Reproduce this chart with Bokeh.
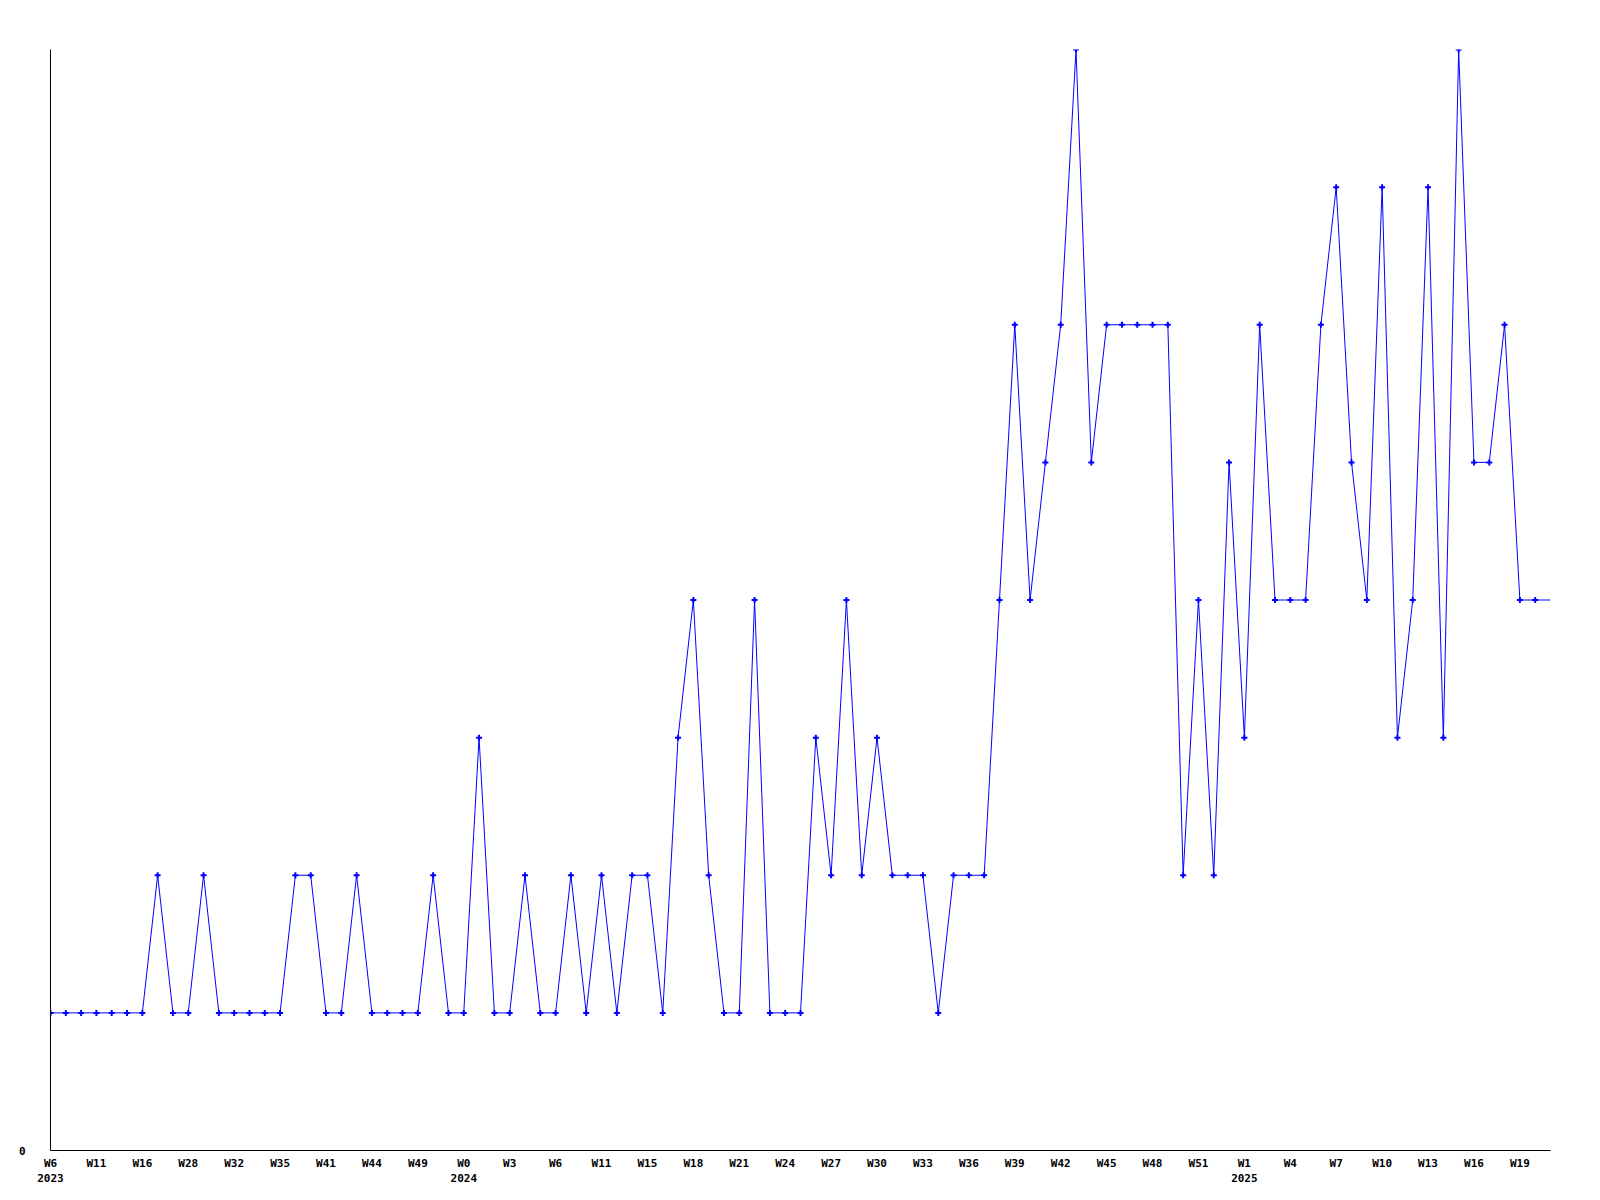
from bokeh.plotting import figure
from bokeh.models import Range1d, FixedTicker
from bokeh.embed import file_html
from bokeh.resources import INLINE

# Weekly counts (one value per week shown on the chart)
values = [1, 1, 1, 1, 1, 1, 1, 2, 1, 1,
          2, 1, 1, 1, 1, 1, 2, 2, 1, 1,
          2, 1, 1, 1, 1, 2, 1, 1, 3, 1,
          1, 2, 1, 1, 2, 1, 2, 1, 2, 2,
          1, 3, 4, 2, 1, 1, 4, 1, 1, 1,
          3, 2, 4, 2, 3, 2, 2, 2, 1, 2,
          2, 2, 4, 6, 4, 5, 6, 8, 5, 6,
          6, 6, 6, 6, 2, 4, 2, 5, 3, 6,
          4, 4, 4, 6, 7, 5, 4, 7, 3, 4,
          7, 3, 8, 5, 5, 6, 4, 4, 4]

# Tick labels (every third week is labelled)
tick_labels = ["W6", "W11", "W16", "W28", "W32", "W35", "W41", "W44", "W49",
               "W0", "W3", "W6", "W11", "W15", "W18", "W21", "W24", "W27",
               "W30", "W33", "W36", "W39", "W42", "W45", "W48", "W51",
               "W1", "W4", "W7", "W10", "W13", "W16", "W19"]
year_marks = {0: "2023", 9: "2024", 26: "2025"}
label_step = 3

x = list(range(len(values)))
tick_pos = [i * label_step for i in range(len(tick_labels))]
overrides = {}
for k, (pos, lab) in enumerate(zip(tick_pos, tick_labels)):
    overrides[pos] = lab + ("\n" + year_marks[k] if k in year_marks else "")

p = figure(width=1592, height=1192, output_backend="svg", toolbar_location=None,
           x_range=Range1d(0, len(values) - 1), y_range=Range1d(0, 8),
           min_border_left=50, min_border_right=42, min_border_top=49,
           min_border_bottom=42)
p.outline_line_color = None
p.xgrid.visible = False
p.ygrid.visible = False
p.background_fill_color = "white"
p.border_fill_color = "white"

p.line(x, values, line_color="#0000FF", line_width=1)
p.scatter(x[:-1], values[:-1], marker="cross", size=6, line_color="#0000FF",
          line_width=2)

font = "DejaVu Sans Mono"
p.xaxis.ticker = FixedTicker(ticks=tick_pos)
p.xaxis.major_label_overrides = overrides
p.yaxis.ticker = FixedTicker(ticks=[0])
for ax in (p.xaxis[0], p.yaxis[0]):
    ax.major_tick_in = 0
    ax.major_tick_out = 0
    ax.minor_tick_in = 0
    ax.minor_tick_out = 0
    ax.axis_line_color = "black"
    ax.axis_line_width = 1
    ax.major_label_text_font = font
    ax.major_label_text_font_style = "bold"
    ax.major_label_text_font_size = "11px"
    ax.major_label_text_color = "black"
p.xaxis.major_label_standoff = 6
p.yaxis.major_label_standoff = 25

open("out.html", "w").write(file_html(p, INLINE))
